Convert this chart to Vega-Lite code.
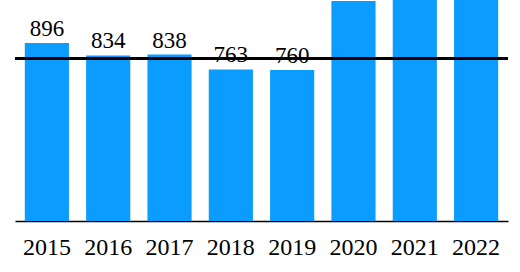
{
  "$schema": "https://vega.github.io/schema/vega-lite/v6.json",
  "autosize": "none",
  "padding": {"left": 15, "top": 0, "right": 12, "bottom": 51},
  "width": 493,
  "height": 221,
  "config": {"view": {"stroke": null}, "font": "Liberation Serif"},
  "data": {"values": [
    {"year": "2015", "value": 896},
    {"year": "2016", "value": 834},
    {"year": "2017", "value": 838},
    {"year": "2018", "value": 763},
    {"year": "2019", "value": 760},
    {"year": "2020", "value": 1108},
    {"year": "2021", "value": 1180},
    {"year": "2022", "value": 1200}
  ]},
  "encoding": {
    "x": {"field": "year", "type": "nominal", "sort": null,
      "scale": {"paddingInner": 0.28, "paddingOuter": 0.16},
      "axis": {"title": null, "ticks": false, "labelAngle": 0, "labelFont": "Liberation Serif", "labelFontSize": 24, "labelColor": "#000", "labelPadding": 14, "domainColor": "#000", "domainWidth": 1.5}
    },
    "y": {"field": "value", "type": "quantitative",
      "scale": {"domain": [0, 1113], "nice": false, "zero": true},
      "axis": null
    }
  },
  "layer": [
    {"mark": {"type": "bar", "color": "#0a9cff", "clip": true}},
    {"transform": [{"filter": "datum.value < 1000"}],
     "mark": {"type": "text", "font": "Liberation Serif", "fontSize": 23, "color": "#000", "baseline": "bottom", "dy": -2},
     "encoding": {"text": {"field": "value", "type": "quantitative"}}},
    {"mark": {"type": "rule", "color": "#000", "strokeWidth": 2},
     "encoding": {"y": {"datum": 818}, "x": null}}
  ]
}
